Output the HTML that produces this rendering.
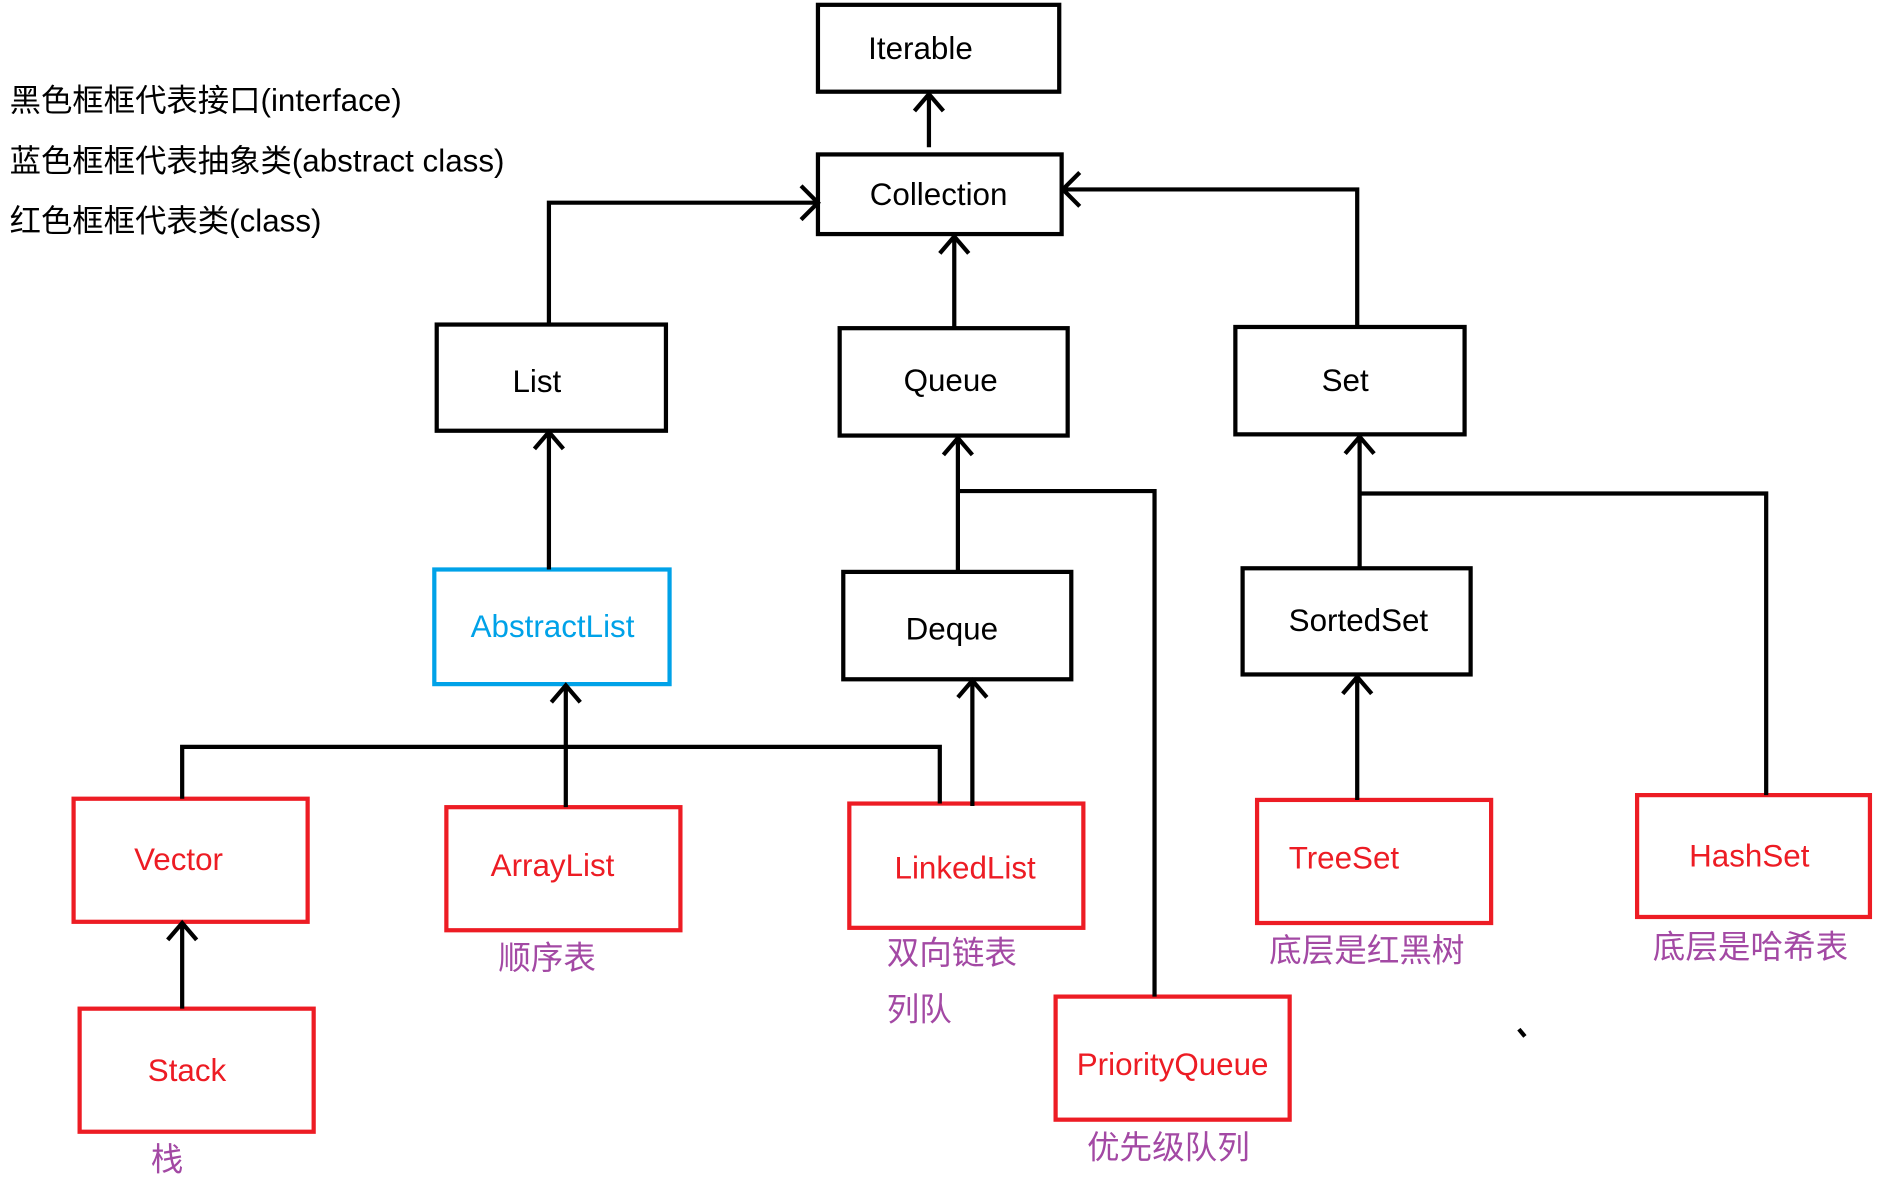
<!DOCTYPE html>
<html><head><meta charset="utf-8"><style>
html,body{margin:0;padding:0;background:#fff;width:1882px;height:1180px;overflow:hidden}
svg{display:block}
text{font-family:"Liberation Sans","Noto Sans CJK SC",sans-serif}
</style></head><body>
<svg width="1882" height="1180" viewBox="0 0 1560 978" preserveAspectRatio="none" xmlns="http://www.w3.org/2000/svg">
<g fill="none" stroke="#000" stroke-width="3.5">
<rect x="678" y="4" width="200" height="72"/>
<rect x="678" y="128" width="202" height="66"/>
<rect x="362" y="269" width="190" height="88"/>
<rect x="696" y="272" width="189" height="89"/>
<rect x="1024" y="271" width="190" height="89"/>
<rect x="699" y="474" width="189" height="89"/>
<rect x="1030" y="471" width="189" height="88"/>
</g>
<rect x="360" y="472" width="195" height="95" fill="none" stroke="#00a2e8" stroke-width="3.5"/>
<g fill="none" stroke="#ed1c24" stroke-width="3.5">
<rect x="61" y="662" width="194" height="102"/>
<rect x="370" y="669" width="194" height="102"/>
<rect x="704" y="666" width="194" height="103"/>
<rect x="1042" y="663" width="194" height="102"/>
<rect x="1357" y="659" width="193" height="101"/>
<rect x="66" y="836" width="194" height="102"/>
<rect x="875" y="826" width="194" height="102"/>
</g>
<g fill="none" stroke="#000" stroke-width="3.5">
<path d="M770 122V78M758 92L770 78L782 92"/>
<path d="M455 268V168H678M664 154L678 168L664 182"/>
<path d="M1125 270V157H881M895 143L881 157L895 171"/>
<path d="M791 271V196M779 210L791 196L803 210"/>
<path d="M455 472V358M443 372L455 358L467 372"/>
<path d="M794 474V363M782 377L794 363L806 377"/>
<path d="M957 826V407H794"/>
<path d="M1127 470V362M1115 376L1127 362L1139 376"/>
<path d="M1464 659V409H1127"/>
<path d="M469 669V568M457 582L469 568L481 582"/>
<path d="M151 662V619H779V666"/>
<path d="M806 668V564M794 578L806 564L818 578"/>
<path d="M1125 663V561M1113 575L1125 561L1137 575"/>
<path d="M151 836V765M139 779L151 765L163 779"/>
<path d="M1259 853L1264 859"/>
</g>
<g font-size="26" text-anchor="middle" fill="#000">
<text x="763" y="49">Iterable</text>
<text x="778" y="170">Collection</text>
<text x="445" y="325">List</text>
<text x="788" y="324">Queue</text>
<text x="1115" y="324">Set</text>
<text x="789" y="530">Deque</text>
<text x="1126" y="523">SortedSet</text>
<text x="458" y="528" fill="#00a2e8">AbstractList</text>
</g>
<g font-size="26" text-anchor="middle" fill="#ed1c24">
<text x="148" y="721">Vector</text>
<text x="458" y="726">ArrayList</text>
<text x="800" y="728">LinkedList</text>
<text x="1114" y="720">TreeSet</text>
<text x="1450" y="718">HashSet</text>
<text x="155" y="896">Stack</text>
<text x="972" y="891">PriorityQueue</text>
</g>
<g font-size="27" fill="#a349a4">
<text x="413" y="803">顺序表</text>
<text x="735" y="799">双向链表</text>
<text x="735" y="846">列队</text>
<text x="1052" y="797">底层是红黑树</text>
<text x="1370" y="794">底层是哈希表</text>
<text x="125" y="970">栈</text>
<text x="901" y="960">优先级队列</text>
</g>
<g font-size="26" fill="#000">
<text x="8" y="92">黑色框框代表接口(interface)</text>
<text x="8" y="142">蓝色框框代表抽象类(abstract class)</text>
<text x="8" y="192">红色框框代表类(class)</text>
</g>
</svg>
</body></html>
